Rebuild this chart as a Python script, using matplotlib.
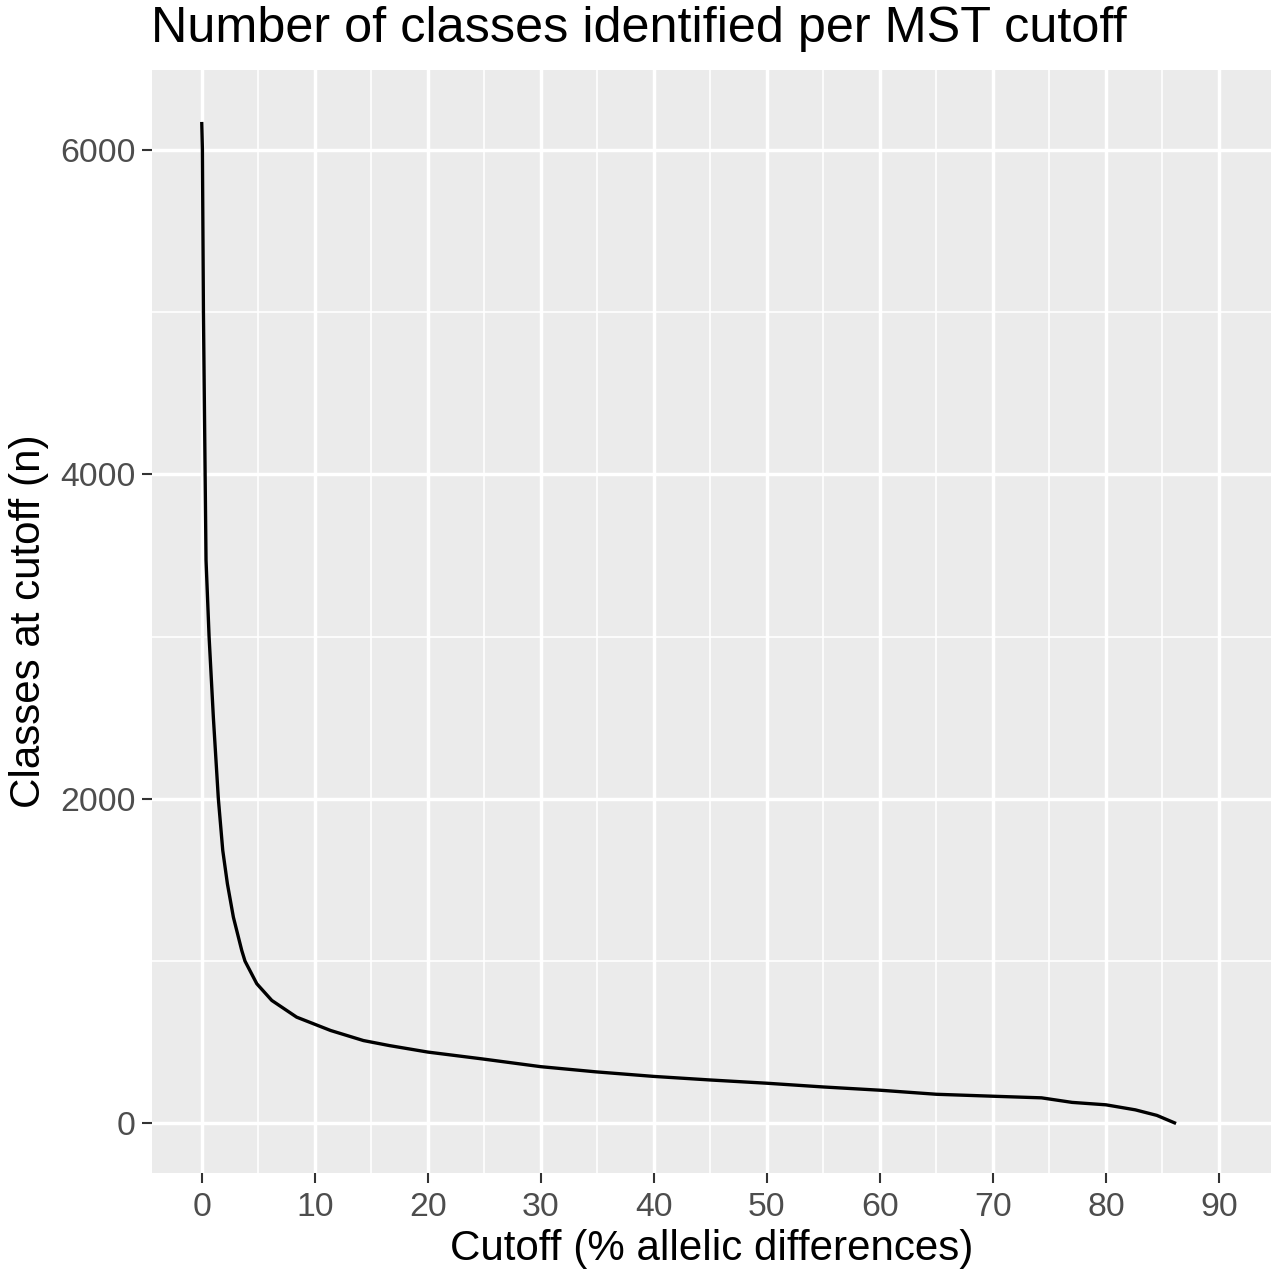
import numpy as np
import matplotlib.pyplot as plt
from matplotlib.ticker import MultipleLocator

# Valores (cutoff em % de diferenças alélicas, número de classes)
cutoff = [0, 0.06, 0.15, 0.3, 0.38, 0.65, 1.03, 1.47, 1.86, 2.27, 2.8, 3.54,
          3.83, 4.87, 6.2, 8.4, 11.4, 14.3, 16.6, 20, 24.8, 30, 34.9, 40, 45,
          50, 55, 60, 65, 70, 74.3, 77, 80, 82.6, 84.5, 86.2]
classes = [6170, 6000, 5000, 4000, 3470, 3000, 2500, 2000, 1682, 1477, 1271, 1066,
           1000, 861, 758, 655, 573, 511, 480, 440, 398, 350, 318, 290, 268,
           248, 225, 205, 180, 168, 158, 130, 115, 84, 50, 0]

x_ticks = [0, 10, 20, 30, 40, 50, 60, 70, 80, 90]
y_ticks = [0, 2000, 4000, 6000]

plt.rcParams['font.family'] = ['Liberation Sans', 'DejaVu Sans']

fig = plt.figure(figsize=(12.8, 12.79), dpi=100)
ax = fig.add_axes([152 / 1280, 1 - 1173 / 1279, (1271 - 152) / 1280, (1173 - 70) / 1279])

ax.set_facecolor('#EBEBEB')
for s in ax.spines.values():
    s.set_visible(False)

# Grade no estilo ggplot
ax.set_xticks(x_ticks)
ax.set_yticks(y_ticks)
ax.xaxis.set_minor_locator(MultipleLocator(5))
ax.yaxis.set_minor_locator(MultipleLocator(1000))
ax.grid(which='major', color='white', linewidth=2.5)
ax.grid(which='minor', color='white', linewidth=1.2)
ax.set_axisbelow(True)

ax.plot(cutoff, classes, color='black', linewidth=2.4,
        solid_capstyle='butt', solid_joinstyle='round')

ax.set_xlim(-4.4, 94.6)
ax.set_ylim(-305, 6490)

ax.tick_params(which='major', length=7, width=1.5, color='#333333',
               labelsize=24.3, labelcolor='#4D4D4D')
ax.tick_params(axis='x', pad=7)
ax.tick_params(axis='y', pad=5)
ax.tick_params(which='minor', length=0)

ax.set_xlabel('Cutoff (% allelic differences)', fontsize=30.3, labelpad=4)
ax.set_ylabel('Classes at cutoff (n)', fontsize=30.3, labelpad=8)

fig.text(151 / 1280, 1 - 42 / 1279, 'Number of classes identified per MST cutoff',
         fontsize=36.3, va='baseline', ha='left')

plt.savefig('out.png', dpi=100)
